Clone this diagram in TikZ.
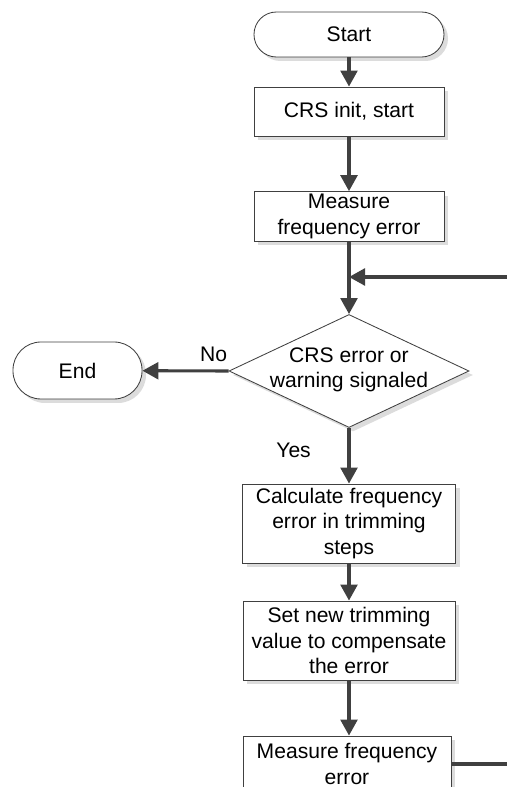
\documentclass[tikz,border=0pt]{standalone}
\usepackage{fontspec}
\setmainfont{Liberation Sans}
\usetikzlibrary{shapes.geometric,shadows,arrows.meta}
\definecolor{linegray}{HTML}{404040}
\definecolor{shadowgray}{HTML}{DCDCDC}
\newcommand{\diamondtext}[1]
{\smash{\makebox[0pt]{\raisebox{-0.2em}{\begin{tabular}{@{}c@{}}#1\end{tabular}}}}}
\tikzset{
	boxshadow/.style={drop shadow={shadow xshift=0.1cm,shadow yshift=-0.1cm,fill=shadowgray,opacity=1}},
	procbox/.style={draw=linegray,line width=0.6pt,fill=white,boxshadow,align=center,inner sep=2pt,minimum width=4.75cm,minimum height=1.225cm},
	termbox/.style={procbox,rounded corners=0.56cm,minimum height=1.125cm},
	decbox/.style={diamond,draw=linegray,line width=0.6pt,fill=white,boxshadow,inner sep=0pt,minimum width=6cm,minimum height=2.825cm},
	flowline/.style={draw=linegray,line width=2.2pt},
	flowarrow/.style={flowline,-{Triangle[width=0.42cm,length=0.4cm]}}
}

\begin{document}
\begin{tikzpicture}[every node/.style={font=\fontsize{15pt}{18pt}\selectfont}]
\useasboundingbox (0,0) rectangle (12.675,19.675);
\clip (0,0) rectangle (12.675,19.675);

% main column
\node[termbox] (start) at (8.725,18.8125) {Start};
\node[procbox] (init) at (8.725,16.8875) {CRS init, start};
\node[procbox] (meas) at (8.725,14.2625) {Measure\\frequency error};
\node[decbox] (crserr) at (8.725,10.4) {\diamondtext{CRS error or\\warning signaled}};
\node[termbox,minimum width=3.225cm,minimum height=1.425cm,rounded corners=0.7cm] (end) at (1.9375,10.4125) {End};
\node[procbox,minimum width=5.325cm,minimum height=1.975cm] (calc) at (8.725,6.5875) {Calculate frequency\\error in trimming\\steps};
\node[procbox,minimum width=5.3cm,minimum height=1.975cm] (trim) at (8.725,3.6625) {Set new trimming\\value to compensate\\the error};
\node[procbox,minimum width=5.2cm,minimum height=1.4cm] (remeas) at (8.675,0.575) {Measure frequency\\error};

% loop ends, leaving the picture on the right
\coordinate (loopin) at (12.675,12.75);
\coordinate (loopout) at (12.675,0.575);

\draw[flowarrow] (start) -- (init);
\draw[flowarrow] (init) -- (meas);
\draw[flowarrow] (meas) -- (crserr);
\draw[flowarrow] (loopin) -- (loopin -| meas.south);
\draw[flowarrow] (crserr.west) -- node[pos=0,above left,inner xsep=0pt,inner ysep=0.2cm] {No} (end);
\draw[flowarrow] (crserr) -- node[pos=0.4,left=0.8cm] {Yes} (calc);
\draw[flowarrow] (calc) -- (trim);
\draw[flowarrow] (trim) -- (trim |- remeas.north);
\draw[flowline] (remeas) -- (loopout);
\end{tikzpicture}
\end{document}
